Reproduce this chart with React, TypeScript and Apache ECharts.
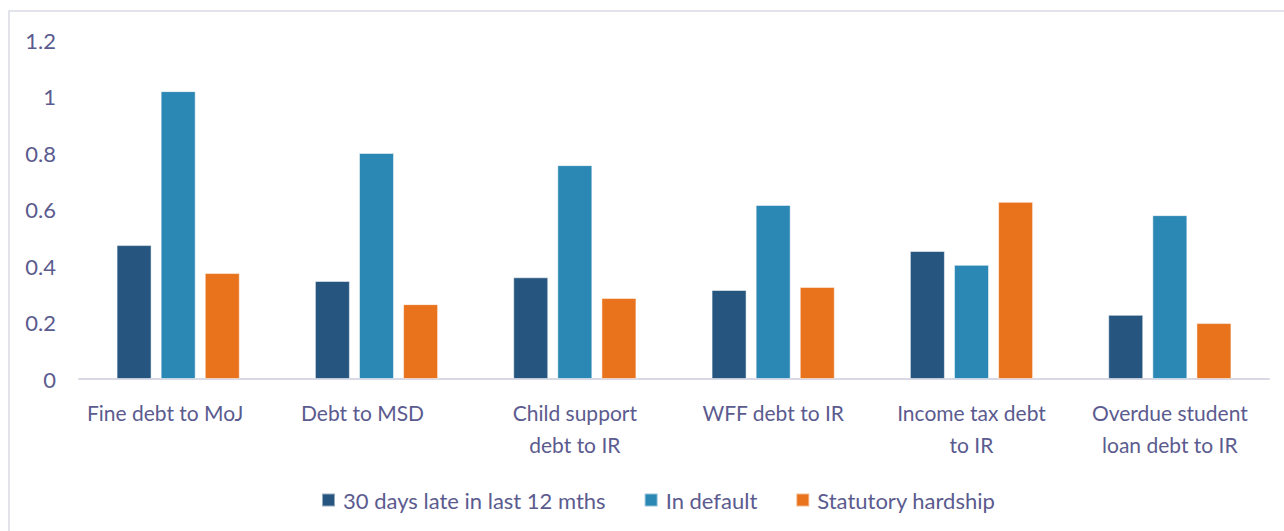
import React, { useEffect, useRef } from "react";
import * as echarts from "echarts";

const categories = [
  "Fine debt to MoJ",
  "Debt to MSD",
  "Child support\ndebt to IR",
  "WFF debt to IR",
  "Income tax debt\nto IR",
  "Overdue student\nloan debt to IR",
];
const seriesNames = ["30 days late in last 12 mths", "In default", "Statutory hardship"];
const late30 = [0.474, 0.347, 0.36, 0.315, 0.453, 0.227];
const inDefault = [1.019, 0.80, 0.757, 0.616, 0.404, 0.58];
const hardship = [0.375, 0.265, 0.287, 0.326, 0.627, 0.198];

const colors = ["#26567f", "#2b87b3", "#e8731c"];
const textColor = "#5b5b8f";
const font = "Lato, 'Open Sans', sans-serif";
// label shift (px to the left) to mimic the source's placement of single-line labels
const labelShift = [26, 28, 0, 0, 0, 0];

export default function App() {
  const ref = useRef<HTMLDivElement>(null);
  useEffect(() => {
    document.body.style.margin = "0";
    const chart = echarts.init(ref.current!, null, { renderer: "svg" });
    const values = [late30, inDefault, hardship];
    chart.setOption({
      animation: false,
      backgroundColor: "#ffffff",
      grid: { left: 79, right: 15, top: 40, bottom: 152, containLabel: false },
      graphic: [
        {
          type: "rect",
          shape: { x: 9, y: 11, width: 1300, height: 540 },
          style: { fill: "none", stroke: "#dadae6", lineWidth: 1.5 },
          silent: true,
        },
      ],
      legend: {
        bottom: 15,
        left: 316,
        itemWidth: 13,
        itemHeight: 13,
        itemGap: 38,
        icon: "rect",
        textStyle: { color: textColor, fontSize: 22, fontFamily: font, padding: [0, 0, 0, 3] },
        data: seriesNames,
      },
      xAxis: {
        type: "category",
        data: categories.map((c, i) => ({
          value: c,
          textStyle: { padding: [0, labelShift[i], 0, 0] },
        })),
        axisLine: { lineStyle: { color: "#d9d9e6", width: 2 } },
        axisTick: { show: false },
        axisLabel: {
          color: textColor,
          fontSize: 21,
          fontFamily: font,
          lineHeight: 32,
          margin: 17,
          interval: 0,
        },
      },
      yAxis: {
        type: "value",
        min: 0,
        max: 1.2,
        interval: 0.2,
        splitLine: { show: false },
        axisLine: { show: false },
        axisTick: { show: false },
        axisLabel: { color: textColor, fontSize: 22, fontFamily: font, margin: 23 },
      },
      series: seriesNames.map((name, i) => ({
        name,
        type: "bar",
        data: values[i],
        barWidth: 35,
        barGap: "26%",
        itemStyle: { color: colors[i], borderColor: "rgba(255,255,255,0.5)", borderWidth: 1 },
      })),
    });
    return () => chart.dispose();
  }, []);
  return <div ref={ref} style={{ width: 1284, height: 531 }} />;
}
